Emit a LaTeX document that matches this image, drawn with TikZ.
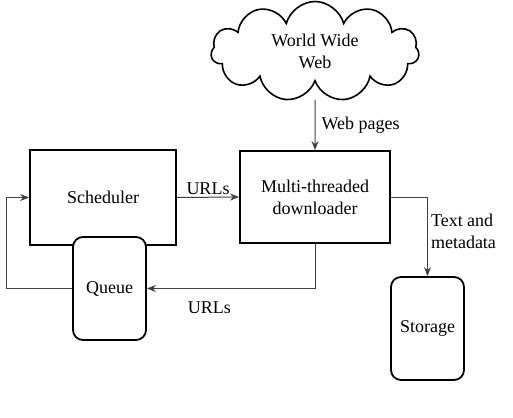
\documentclass[tikz,border=0pt]{standalone}
\usepackage{fontspec}
\setmainfont{Liberation Serif}
\usetikzlibrary{shapes.symbols,arrows.meta}
\begin{document}
\begin{tikzpicture}[x=1pt,y=-1pt,
  every node/.style={font=\rmfamily\fontsize{18}{22}\selectfont},
  box/.style={draw=black,line width=1.8pt,fill=white,inner sep=0pt,align=center},
  store/.style={box,rounded corners=10pt},
  conn/.style={draw=black!75,line width=1pt,-{Stealth[length=9pt,width=7pt]}},
  lbl/.style={inner sep=1pt,align=left}]
\useasboundingbox (0,0) rectangle (513,417);
\node[cloud,draw=black,line width=1.6pt,cloud puffs=11,cloud ignores aspect,minimum width=208pt,minimum height=100pt,inner sep=0pt,align=center] (web) at (315,51.5) {World Wide\\Web};
\node[box,minimum width=146pt,minimum height=95pt] (sched) at (103,197.5) {Scheduler};
\node[box,minimum width=150pt,minimum height=92pt] (down) at (315,197) {Multi-threaded\\downloader};
\node[store,minimum width=73pt,minimum height=103pt] (queue) at (109.5,288.5) {Queue};
\node[store,minimum width=73pt,minimum height=103pt] (storage) at (427.5,328.5) {Storage};
\draw[conn] (web.south |- 0,100) -- (down.north) node[lbl,midway,right,xshift=5pt] {Web pages};
\draw[conn] (sched.east) -- (down.west) node[lbl,midway,above,yshift=1pt] {URLs};
\draw[conn] (down.east) -| (storage.north) node[lbl,pos=0.72,right,xshift=2pt] {Text and\\metadata};
\draw[conn] (down.south) |- (queue.east) node[lbl,pos=0.814,anchor=center,yshift=-19pt] {URLs};
\draw[conn] (queue.west) -- ++(-66,0) |- (sched.west);
\end{tikzpicture}
\end{document}
